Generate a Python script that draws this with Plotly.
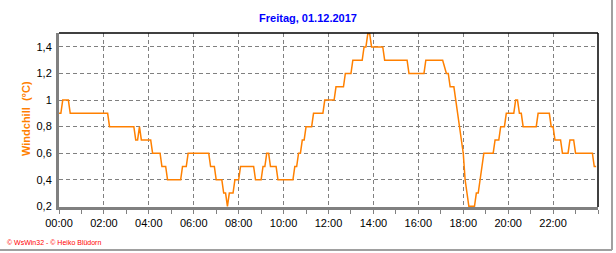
import plotly.graph_objects as go

# Windchill samples (time of day, °C) at the points where the series changes
times = ["00:00", "00:05", "00:10", "00:25", "00:30", "02:10", "02:15", "03:20", "03:25", "03:30",
         "03:35", "03:40", "04:05", "04:10", "04:30", "04:35", "04:45", "04:50", "05:25", "05:30",
         "05:40", "05:45", "06:40", "06:45", "06:55", "07:00", "07:15", "07:20", "07:25", "07:30",
         "07:35", "07:45", "07:50", "08:00", "08:05", "08:40", "08:45", "09:00", "09:05", "09:10",
         "09:15", "09:20", "09:25", "09:40", "09:45", "10:25", "10:30", "10:35", "10:40", "10:45",
         "10:50", "10:55", "11:00", "11:05", "11:15", "11:20", "11:45", "11:50", "12:15", "12:20",
         "12:40", "12:45", "13:00", "13:05", "13:30", "13:35", "13:40", "13:45", "13:50", "13:55",
         "14:25", "14:30", "15:30", "15:35", "16:15", "16:20", "17:05", "17:15", "17:20", "17:25",
         "17:35", "17:40", "17:45", "17:50", "17:55", "18:00", "18:05", "18:10", "18:15", "18:30",
         "18:35", "18:40", "18:45", "18:50", "18:55", "19:20", "19:25", "19:35", "19:40", "19:50",
         "19:55", "20:15", "20:20", "20:25", "20:30", "20:35", "20:40", "21:15", "21:20", "21:50",
         "21:55", "22:00", "22:05", "22:20", "22:25", "22:40", "22:45", "22:55", "23:00", "23:45",
         "23:50", "23:55"]
windchill = [0.9, 0.9, 1.0, 1.0, 0.9, 0.9, 0.8, 0.8, 0.7, 0.7,
             0.8, 0.7, 0.7, 0.6, 0.6, 0.5, 0.5, 0.4, 0.4, 0.5,
             0.5, 0.6, 0.6, 0.5, 0.5, 0.4, 0.4, 0.3, 0.3, 0.2,
             0.3, 0.3, 0.4, 0.4, 0.5, 0.5, 0.4, 0.4, 0.5, 0.5,
             0.6, 0.6, 0.5, 0.5, 0.4, 0.4, 0.5, 0.5, 0.6, 0.6,
             0.7, 0.7, 0.8, 0.8, 0.8, 0.9, 0.9, 1.0, 1.0, 1.1,
             1.1, 1.2, 1.2, 1.3, 1.3, 1.4, 1.4, 1.5, 1.5, 1.4,
             1.4, 1.3, 1.3, 1.2, 1.2, 1.3, 1.3, 1.2, 1.2, 1.1,
             1.1, 1.0, 0.9, 0.8, 0.7, 0.6, 0.4, 0.3, 0.2, 0.2,
             0.3, 0.3, 0.4, 0.5, 0.6, 0.6, 0.7, 0.7, 0.8, 0.8,
             0.9, 0.9, 1.0, 1.0, 0.9, 0.9, 0.8, 0.8, 0.9, 0.9,
             0.8, 0.8, 0.7, 0.7, 0.6, 0.6, 0.7, 0.7, 0.6, 0.6,
             0.5, 0.5]

x_tick_labels = ["00:00", "02:00", "04:00", "06:00", "08:00", "10:00",
                 "12:00", "14:00", "16:00", "18:00", "20:00", "22:00"]
y_tick_values = [0.2, 0.4, 0.6, 0.8, 1.0, 1.2, 1.4]
y_tick_labels = ["0,2", "0,4", "0,6", "0,8", "1", "1,2", "1,4"]

title_text = "Freitag, 01.12.2017"
y_title = "Windchill  (°C)"
footer = "© WsWin32 - © Heiko Blüdorn"

def to_hours(s):
    h, m = s.split(":")
    return int(h) + int(m) / 60.0

x_hours = [to_hours(t) for t in times]
x_tick_vals = [to_hours(t) for t in x_tick_labels]

ORANGE = "#FF8000"
GRID = "#808080"
FONT = "Liberation Sans, Arial, sans-serif"

fig = go.Figure()
fig.add_trace(go.Scatter(x=x_hours, y=windchill, mode="lines",
                         line=dict(color=ORANGE, width=1.5), hoverinfo="skip"))

W, H = 616, 253
L, R, T, B = 59, 18, 33, 46
pw, ph = W - L - R, H - T - B

def px_x(p):
    return (p - L) / pw

def px_y(p):
    return (H - B - p) / ph

fig.update_layout(
    width=W, height=H,
    margin=dict(l=L, r=R, t=T, b=B, pad=0),
    paper_bgcolor="white", plot_bgcolor="white",
    showlegend=False,
    font=dict(family=FONT, size=11, color="black"),
    title=dict(text="<b>" + title_text + "</b>", x=0.5, xanchor="center",
               y=1 - 18 / H, yanchor="middle", xref="container", yref="container",
               font=dict(family=FONT, size=11, color="#0000FF")),
    xaxis=dict(range=[0, 24], tickvals=x_tick_vals, ticktext=x_tick_labels,
               showgrid=True, gridcolor=GRID, griddash="4px,3px", gridwidth=1,
               showline=True, linecolor=GRID, linewidth=3,
               ticks="outside", ticklen=4, tickcolor=GRID, tickwidth=1,
               minor=dict(dtick=1, tick0=0, ticks="outside", ticklen=4, tickcolor=GRID, showgrid=False),
               zeroline=False, fixedrange=True, ticklabelstandoff=0,
               tickfont=dict(family=FONT, size=11, color="black")),
    yaxis=dict(range=[0.195, 1.505], tickvals=y_tick_values, ticktext=y_tick_labels,
               showgrid=True, gridcolor=GRID, griddash="4px,3px", gridwidth=1,
               showline=True, linecolor=GRID, linewidth=3,
               ticks="", zeroline=False, fixedrange=True, ticklabelstandoff=2,
               tickfont=dict(family=FONT, size=11, color="black")),
    annotations=[
        dict(text="<b>" + y_title + "</b>", textangle=-90, showarrow=False,
             xref="paper", yref="paper", x=px_x(26), y=px_y(119),
             xanchor="center", yanchor="middle",
             font=dict(family=FONT, size=11, color=ORANGE)),
        dict(text=footer, showarrow=False, xref="paper", yref="paper",
             x=px_x(5), y=px_y(242), xanchor="left", yanchor="middle",
             font=dict(family=FONT, size=7, color="#FF0000")),
    ],
    shapes=[
        # top and right black frame of the plot area
        dict(type="line", xref="paper", yref="paper", x0=0, x1=1, y0=1, y1=1,
             line=dict(color="black", width=1.5)),
        dict(type="line", xref="paper", yref="paper", x0=1, x1=1, y0=0, y1=1,
             line=dict(color="black", width=1.5)),
        # outer grey frame of the image
        dict(type="line", xref="paper", yref="paper", x0=px_x(612), x1=px_x(612),
             y0=px_y(0), y1=px_y(250), line=dict(color="#A0A0A0", width=2)),
        dict(type="line", xref="paper", yref="paper", x0=px_x(0), x1=px_x(612),
             y0=px_y(250), y1=px_y(250), line=dict(color="#A0A0A0", width=2)),
    ],
)

fig.write_html("out.html", config={"displayModeBar": False, "staticPlot": True})
